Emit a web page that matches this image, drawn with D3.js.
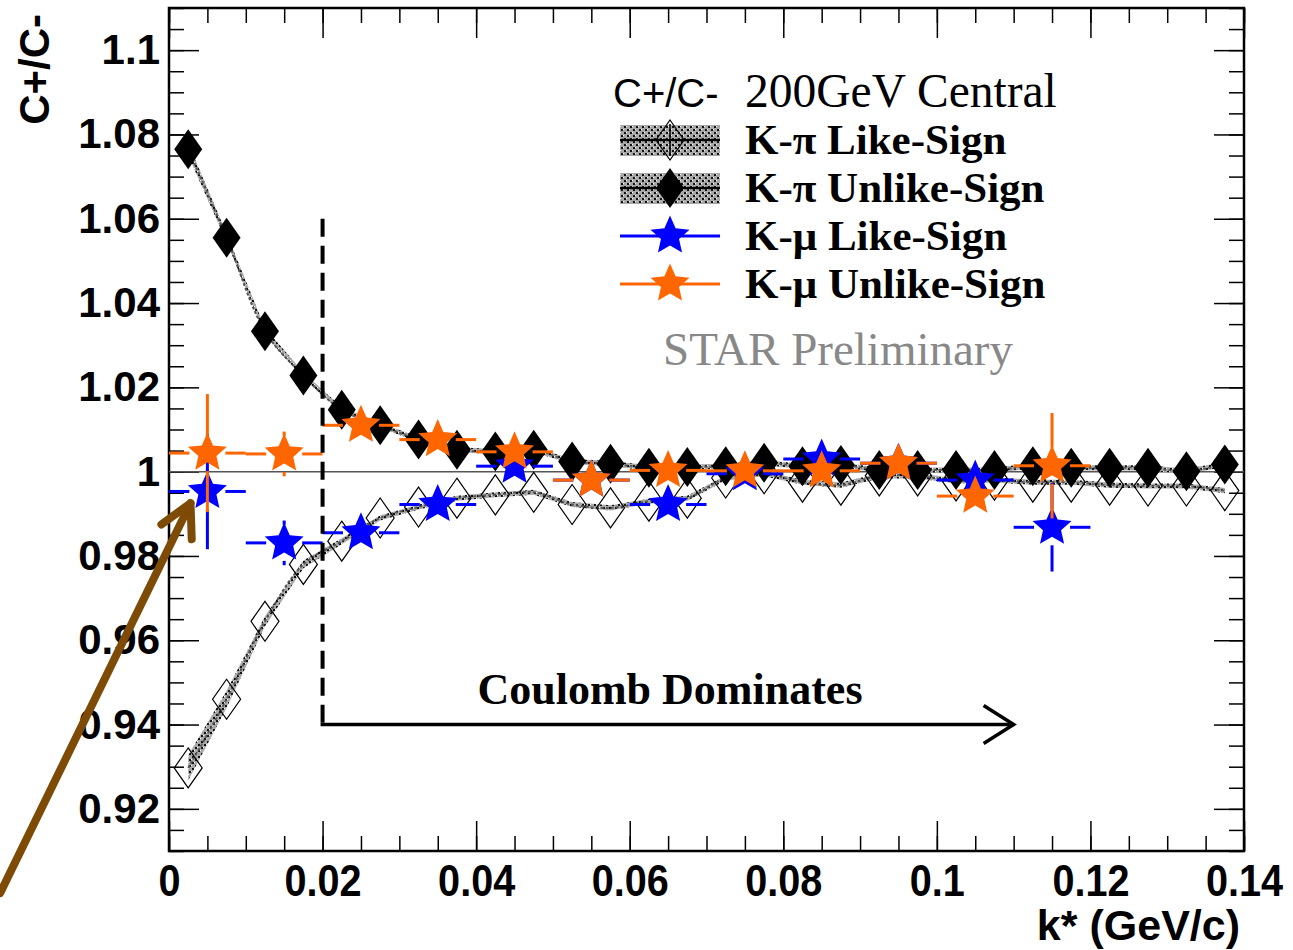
<!DOCTYPE html>
<html>
<head>
<meta charset="utf-8">
<script src="https://cdn.jsdelivr.net/npm/d3@7"></script>
<style>
  html, body { margin: 0; padding: 0; background: #fff; }
  svg { display: block; }
</style>
</head>
<body>
<svg id="chart" width="1293" height="950"></svg>
<script>
/*
Data
*/

// K-pi correlation ratio, 0.005 GeV/c bins
var kpiK = [0.0025, 0.0075, 0.0125, 0.0175, 0.0225, 0.0275, 0.0325, 0.0375, 0.0425, 0.0475,
            0.0525, 0.0575, 0.0625, 0.0675, 0.0725, 0.0775, 0.0825, 0.0875, 0.0925, 0.0975,
            0.1025, 0.1075, 0.1125, 0.1175, 0.1225, 0.1275, 0.1325, 0.1375];
var kpiLike = [0.9297, 0.9460, 0.9645, 0.9780, 0.9835, 0.9890, 0.9916, 0.9937, 0.9945, 0.9951,
               0.9922, 0.9914, 0.9930, 0.9937, 0.9985, 0.9995, 0.9975, 0.9968, 0.9990, 0.9990,
               0.9978, 0.9980, 0.9975, 0.9975, 0.9968, 0.9966, 0.9966, 0.9955];
var kpiLikeErr = [0.0030, 0.0020, 0.0012, 0.0009, 0.0007, 0.0006, 0.0006, 0.0006, 0.0006, 0.0006,
                  0.0006, 0.0006, 0.0006, 0.0006, 0.0006, 0.0006, 0.0006, 0.0006, 0.0006, 0.0006,
                  0.0006, 0.0006, 0.0006, 0.0006, 0.0006, 0.0006, 0.0006, 0.0006];
var kpiUnlike = [1.0765, 1.0555, 1.0333, 1.0228, 1.0147, 1.0110, 1.0076, 1.0052, 1.0048, 1.0052,
                 1.0024, 1.0019, 1.0009, 1.0011, 1.0013, 1.0021, 1.0013, 1.0016, 1.0004, 1.0004,
                 1.0004, 1.0004, 1.0013, 1.0009, 1.0009, 1.0009, 1.0001, 1.0017];
var kpiUnlikeErr = [0.0015, 0.0010, 0.0008, 0.0007, 0.0006, 0.0006, 0.0006, 0.0006, 0.0006, 0.0006,
                    0.0006, 0.0006, 0.0006, 0.0006, 0.0006, 0.0006, 0.0006, 0.0006, 0.0006, 0.0006,
                    0.0006, 0.0006, 0.0006, 0.0006, 0.0006, 0.0006, 0.0006, 0.0006];

// K-mu correlation ratio, 0.01 GeV/c bins
var kmuK = [0.005, 0.015, 0.025, 0.035, 0.045, 0.055, 0.065, 0.075, 0.085, 0.095, 0.105, 0.115];
var kmuHalfBin = 0.005;
var kmuLike = [0.9953, 0.9831, 0.9855, 0.9922, 1.0013, 0.9980, 0.9922, 0.9995, 1.0030, 1.0020, 0.9980, 0.9868];
var kmuLikeErr = [0.0137, 0.0053, 0.0035, 0.0030, 0.0030, 0.0030, 0.0030, 0.0030, 0.0030, 0.0030, 0.0040, 0.0105];
var kmuUnlike = [1.0044, 1.0042, 1.0110, 1.0076, 1.0047, 0.9980, 1.0003, 1.0002, 1.0002, 1.0020, 0.9942, 1.0014];
var kmuUnlikeErr = [0.0140, 0.0053, 0.0035, 0.0030, 0.0030, 0.0030, 0.0030, 0.0030, 0.0030, 0.0030, 0.0035, 0.0125];

var xTicks = [0, 0.02, 0.04, 0.06, 0.08, 0.1, 0.12, 0.14];
var yTicks = [0.92, 0.94, 0.96, 0.98, 1, 1.02, 1.04, 1.06, 1.08, 1.1];

var legendLabels = ["K-\u03c0 Like-Sign", "K-\u03c0 Unlike-Sign", "K-\u03bc Like-Sign", "K-\u03bc Unlike-Sign"];

/*
Setup
*/

var svg = d3.select("#chart");
var plot = { left: 169, right: 1244, top: 8, bottom: 851 };

var x = d3.scaleLinear().domain([0, 0.14]).range([plot.left, plot.right]);
var y = d3.scaleLinear().domain([0.91, 1.11]).range([plot.bottom, plot.top]);

var BLUE = "#0000ff", ORANGE = "#ff6600", BROWN = "#7d4b06";
var SANS = "'Liberation Sans', Arial, Helvetica, sans-serif";
var SERIF = "'Liberation Serif', 'Times New Roman', Times, serif";

// hatched band fill, roughly ROOT's checker style
var defs = svg.append("defs");
var pat = defs.append("pattern").attr("id", "hatch")
  .attr("patternUnits", "userSpaceOnUse").attr("width", 6).attr("height", 6);
pat.append("rect").attr("width", 6).attr("height", 6).attr("fill", "#a8a8a8");
pat.append("rect").attr("x", 0).attr("y", 0).attr("width", 2).attr("height", 2).attr("fill", "#111");
pat.append("rect").attr("x", 3).attr("y", 3).attr("width", 2).attr("height", 2).attr("fill", "#111");
pat.append("rect").attr("x", 2).attr("y", 0).attr("width", 1).attr("height", 1).attr("fill", "#fff");
pat.append("rect").attr("x", 5).attr("y", 3).attr("width", 1).attr("height", 1).attr("fill", "#fff");

defs.append("clipPath").attr("id", "plotclip")
  .append("rect").attr("x", plot.left).attr("y", plot.top)
  .attr("width", plot.right - plot.left).attr("height", plot.bottom - plot.top);

function diamondPath(hw, hh) {
  return "M0," + (-hh) + "L" + hw + ",0L0," + hh + "L" + (-hw) + ",0Z";
}

function starPath(R, r) {
  var pts = [];
  for (var i = 0; i < 10; i++) {
    var a = -Math.PI / 2 + i * Math.PI / 5;
    var rad = (i % 2 === 0) ? R : r;
    pts.push([rad * Math.cos(a), rad * Math.sin(a)]);
  }
  return "M" + pts.map(function (p) { return p[0].toFixed(2) + "," + p[1].toFixed(2); }).join("L") + "Z";
}

var DIAMOND = diamondPath(14, 20);
var STAR = starPath(20.5, 9.5);

/*
Axes
*/

var minorX = d3.range(0, 0.14001, 0.005);
var minorY = d3.range(0.91, 1.11001, 0.005);

function styleTicks(g) {
  g.select(".domain").remove();
  g.selectAll(".tick line").attr("stroke", "#000").attr("stroke-width", 1.5);
}

svg.append("g").attr("transform", "translate(0," + plot.bottom + ")")
  .call(d3.axisBottom(x).tickValues(minorX).tickSize(-15).tickFormat(""))
  .call(styleTicks);
svg.append("g").attr("transform", "translate(0," + plot.top + ")")
  .call(d3.axisTop(x).tickValues(minorX).tickSize(-15).tickFormat(""))
  .call(styleTicks);
svg.append("g").attr("transform", "translate(" + plot.left + ",0)")
  .call(d3.axisLeft(y).tickValues(minorY).tickSize(-15).tickFormat(""))
  .call(styleTicks);
svg.append("g").attr("transform", "translate(" + plot.right + ",0)")
  .call(d3.axisRight(y).tickValues(minorY).tickSize(-15).tickFormat(""))
  .call(styleTicks);

var xAxis = svg.append("g").attr("transform", "translate(0," + plot.bottom + ")")
  .call(d3.axisBottom(x).tickValues(xTicks).tickSize(-30).tickPadding(14).tickFormat(d3.format("~g")))
  .call(styleTicks);
xAxis.selectAll(".tick text")
  .attr("font-family", SANS).attr("font-weight", "bold").attr("font-size", 44)
  .attr("fill", "#000").attr("transform", "scale(0.9,1)");

svg.append("g").attr("transform", "translate(0," + plot.top + ")")
  .call(d3.axisTop(x).tickValues(xTicks).tickSize(-30).tickFormat(""))
  .call(styleTicks);

var yAxis = svg.append("g").attr("transform", "translate(" + plot.left + ",0)")
  .call(d3.axisLeft(y).tickValues(yTicks).tickSize(-30).tickPadding(9).tickFormat(d3.format("~g")))
  .call(styleTicks);
yAxis.selectAll(".tick text")
  .attr("font-family", SANS).attr("font-weight", "bold").attr("font-size", 42)
  .attr("fill", "#000");

svg.append("g").attr("transform", "translate(" + plot.right + ",0)")
  .call(d3.axisRight(y).tickValues(yTicks).tickSize(-30).tickFormat(""))
  .call(styleTicks);

// frame
svg.append("rect")
  .attr("x", plot.left).attr("y", plot.top)
  .attr("width", plot.right - plot.left).attr("height", plot.bottom - plot.top)
  .attr("fill", "none").attr("stroke", "#000").attr("stroke-width", 2.5);

// axis titles
svg.append("text")
  .attr("x", 1240).attr("y", 940)
  .attr("text-anchor", "end")
  .attr("font-family", SANS).attr("font-weight", "bold").attr("font-size", 43)
  .text("k* (GeV/c)");

svg.append("text")
  .attr("transform", "translate(49,14) rotate(-90)")
  .attr("text-anchor", "end")
  .attr("font-family", SANS).attr("font-weight", "bold").attr("font-size", 42)
  .text("C+/C-");

/*
Plot body
*/

var body = svg.append("g").attr("clip-path", "url(#plotclip)");

// reference line at 1
body.append("line")
  .attr("x1", plot.left).attr("x2", plot.right)
  .attr("y1", y(1)).attr("y2", y(1))
  .attr("stroke", "#555").attr("stroke-width", 1.5);

function bandOf(vals, errs) {
  return kpiK.map(function (k, i) { return { k: k, v: vals[i], e: errs[i] }; });
}

var kpiSeries = [
  { data: bandOf(kpiLike, kpiLikeErr), filled: false },
  { data: bandOf(kpiUnlike, kpiUnlikeErr), filled: true }
];

var area = d3.area()
  .x(function (d) { return x(d.k); })
  .y0(function (d) { return y(d.v - d.e); })
  .y1(function (d) { return y(d.v + d.e); });

var curve = d3.line()
  .curve(d3.curveCatmullRom)
  .x(function (d) { return x(d.k); })
  .y(function (d) { return y(d.v); });

kpiSeries.forEach(function (s) {
  body.append("path").attr("d", area(s.data)).attr("fill", "url(#hatch)");
  body.append("path").attr("d", curve(s.data))
    .attr("fill", "none").attr("stroke", "#555").attr("stroke-width", 2)
    .attr("stroke-dasharray", "3,2");
});

kpiSeries.forEach(function (s) {
  body.selectAll(null).data(s.data).enter().append("path")
    .attr("d", DIAMOND)
    .attr("transform", function (d) { return "translate(" + x(d.k) + "," + y(d.v) + ")"; })
    .attr("fill", s.filled ? "#000" : "none")
    .attr("stroke", s.filled ? "none" : "#000")
    .attr("stroke-width", 1.2);
});

// K-mu points with error bars; bars leave a gap around the marker
var GAP = 18;
function drawKmu(vals, errs, color) {
  var data = kmuK.map(function (k, i) { return { k: k, v: vals[i], e: errs[i] }; });
  var segs = [];
  data.forEach(function (d) {
    var cx = x(d.k), cy = y(d.v);
    segs.push([x(d.k - kmuHalfBin), cy, cx - GAP, cy]);
    segs.push([cx + GAP, cy, x(d.k + kmuHalfBin), cy]);
    var top = y(d.v + d.e), bot = y(d.v - d.e);
    if (cy - top > GAP) {
      segs.push([cx, top, cx, cy - GAP]);
      segs.push([cx, cy + GAP, cx, bot]);
    }
  });
  var g = body.append("g");
  g.selectAll("line").data(segs).enter().append("line")
    .attr("x1", function (s) { return s[0]; }).attr("y1", function (s) { return s[1]; })
    .attr("x2", function (s) { return s[2]; }).attr("y2", function (s) { return s[3]; })
    .attr("stroke", color).attr("stroke-width", 3);
  g.selectAll("path").data(data).enter().append("path")
    .attr("d", STAR)
    .attr("transform", function (d) { return "translate(" + x(d.k) + "," + y(d.v) + ")"; })
    .attr("fill", color);
}

drawKmu(kmuLike, kmuLikeErr, BLUE);
drawKmu(kmuUnlike, kmuUnlikeErr, ORANGE);

/*
Annotations
*/

// Coulomb region marker
svg.append("line")
  .attr("x1", x(0.02)).attr("x2", x(0.02))
  .attr("y1", y(1.06)).attr("y2", y(0.94))
  .attr("stroke", "#000").attr("stroke-width", 4).attr("stroke-dasharray", "18,9");
svg.append("line")
  .attr("x1", x(0.02) - 2).attr("x2", x(0.11))
  .attr("y1", y(0.94)).attr("y2", y(0.94))
  .attr("stroke", "#000").attr("stroke-width", 3.5);
svg.append("path")
  .attr("d", "M" + (x(0.11) - 30) + "," + (y(0.94) - 19) + "L" + x(0.11) + "," + y(0.94) +
             "L" + (x(0.11) - 30) + "," + (y(0.94) + 19))
  .attr("fill", "none").attr("stroke", "#000").attr("stroke-width", 3.5);

svg.append("text")
  .attr("x", 670).attr("y", 704)
  .attr("text-anchor", "middle")
  .attr("font-family", SERIF).attr("font-weight", "bold").attr("font-size", 44)
  .text("Coulomb Dominates");

// brown arrow to the first K-mu bin
var tip = [x(0.0028), y(0.9925)];
var tail = [x(-0.022), y(0.9)];
var ang = Math.atan2(tail[1] - tip[1], tail[0] - tip[0]);
var armLen = 36, armAng = 28 * Math.PI / 180;
svg.append("line")
  .attr("x1", tail[0]).attr("y1", tail[1]).attr("x2", tip[0]).attr("y2", tip[1])
  .attr("stroke", BROWN).attr("stroke-width", 8).attr("stroke-linecap", "round");
svg.append("path")
  .attr("d", "M" + (tip[0] + armLen * Math.cos(ang - armAng)) + "," + (tip[1] + armLen * Math.sin(ang - armAng)) +
             "L" + tip[0] + "," + tip[1] +
             "L" + (tip[0] + armLen * Math.cos(ang + armAng)) + "," + (tip[1] + armLen * Math.sin(ang + armAng)))
  .attr("fill", "none").attr("stroke", BROWN).attr("stroke-width", 8)
  .attr("stroke-linecap", "round").attr("stroke-linejoin", "round");

/*
Legend
*/

var legend = svg.append("g");
legend.append("text")
  .attr("x", 613).attr("y", 107)
  .attr("font-family", SANS).attr("font-size", 40)
  .text("C+/C-");
legend.append("text")
  .attr("x", 745).attr("y", 107)
  .attr("font-family", SERIF).attr("font-size", 47.5)
  .text("200GeV Central");

var rowY = [140, 188, 236, 284];
legendLabels.forEach(function (label, i) {
  var cy = rowY[i];
  var row = legend.append("g");
  if (i < 2) {
    row.append("rect").attr("x", 620).attr("y", cy - 15).attr("width", 100).attr("height", 31)
      .attr("fill", "url(#hatch)");
    row.append("line").attr("x1", 620).attr("x2", 720).attr("y1", cy).attr("y2", cy)
      .attr("stroke", "#000").attr("stroke-width", 2.5);
    row.append("line").attr("x1", 670).attr("x2", 670).attr("y1", cy - 16).attr("y2", cy + 16)
      .attr("stroke", "#000").attr("stroke-width", 1.5);
    row.append("path").attr("d", DIAMOND).attr("transform", "translate(670," + cy + ")")
      .attr("fill", i === 1 ? "#000" : "none").attr("stroke", i === 1 ? "none" : "#000")
      .attr("stroke-width", 1.2);
  } else {
    var c = i === 2 ? BLUE : ORANGE;
    row.append("line").attr("x1", 620).attr("x2", 720).attr("y1", cy).attr("y2", cy)
      .attr("stroke", c).attr("stroke-width", 3);
    row.append("path").attr("d", STAR).attr("transform", "translate(670," + cy + ")").attr("fill", c);
  }
  row.append("text")
    .attr("x", 745).attr("y", cy + 14)
    .attr("font-family", SERIF).attr("font-weight", "bold").attr("font-size", 43)
    .text(label);
});

svg.append("text")
  .attr("x", 663).attr("y", 365)
  .attr("font-family", SERIF).attr("font-size", 47).attr("fill", "#888")
  .text("STAR Preliminary");
</script>
</body>
</html>
